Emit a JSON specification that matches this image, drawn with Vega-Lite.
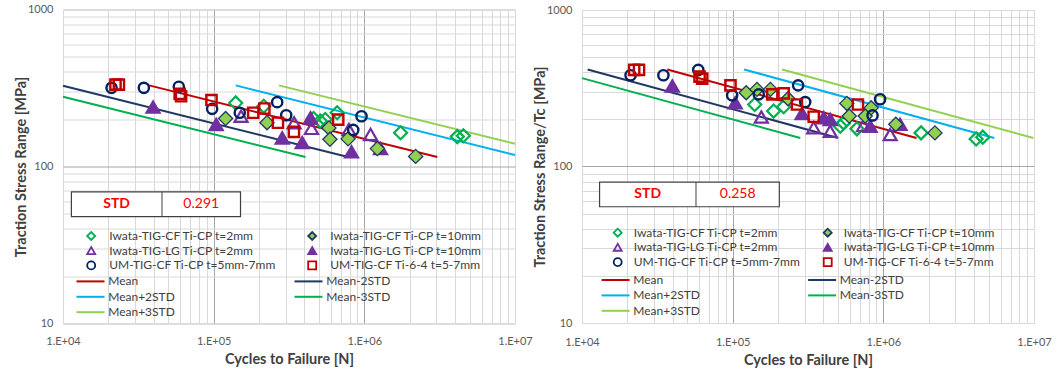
{
  "$schema": "https://vega.github.io/schema/vega-lite/v6.json",
  "padding": {"left": 12, "top": 2.5, "right": 0, "bottom": 0},
  "background": "white",
  "spacing": 67,
  "bounds": "flush",
  "center": true,
  "config": {
    "font": "Lato",
    "view": {"stroke": "#bfbfbf", "strokeWidth": 1},
    "axis": {
      "labelFont": "Lato", "labelFontSize": 11, "labelColor": "#595959",
      "titleFont": "Lato", "titleFontSize": 14.5, "titleFontWeight": "bold", "titleColor": "#404040",
      "ticks": false, "domain": false, "grid": true, "gridWidth": 1,
      "labelFlush": false, "labelOverlap": false
    },
    "legend": {
      "labelFont": "Lato", "labelFontSize": 12, "labelColor": "#404040",
      "labelLimit": 400, "padding": 0, "offset": 0, "title": null
    }
  },
  "datasets": {
    "pts": [
      {"p": "a", "s": "Iwata-TIG-CF Ti-CP t=2mm", "n": 140000, "v": 254},
      {"p": "a", "s": "Iwata-TIG-CF Ti-CP t=2mm", "n": 215000, "v": 242},
      {"p": "a", "s": "Iwata-TIG-CF Ti-CP t=2mm", "n": 460000, "v": 202},
      {"p": "a", "s": "Iwata-TIG-CF Ti-CP t=2mm", "n": 510000, "v": 195},
      {"p": "a", "s": "Iwata-TIG-CF Ti-CP t=2mm", "n": 550000, "v": 199},
      {"p": "a", "s": "Iwata-TIG-CF Ti-CP t=2mm", "n": 660000, "v": 220},
      {"p": "a", "s": "Iwata-TIG-CF Ti-CP t=2mm", "n": 1740000, "v": 164},
      {"p": "a", "s": "Iwata-TIG-CF Ti-CP t=2mm", "n": 4140000, "v": 155},
      {"p": "a", "s": "Iwata-TIG-CF Ti-CP t=2mm", "n": 4540000, "v": 157},
      {"p": "a", "s": "Iwata-TIG-CF Ti-CP t=10mm", "n": 120000, "v": 202},
      {"p": "a", "s": "Iwata-TIG-CF Ti-CP t=10mm", "n": 226000, "v": 190},
      {"p": "a", "s": "Iwata-TIG-CF Ti-CP t=10mm", "n": 582000, "v": 176},
      {"p": "a", "s": "Iwata-TIG-CF Ti-CP t=10mm", "n": 591000, "v": 149},
      {"p": "a", "s": "Iwata-TIG-CF Ti-CP t=10mm", "n": 780000, "v": 150},
      {"p": "a", "s": "Iwata-TIG-CF Ti-CP t=10mm", "n": 1220000, "v": 130},
      {"p": "a", "s": "Iwata-TIG-CF Ti-CP t=10mm", "n": 2190000, "v": 116},
      {"p": "a", "s": "Iwata-TIG-LG Ti-CP t=2mm", "n": 152000, "v": 209},
      {"p": "a", "s": "Iwata-TIG-LG Ti-CP t=2mm", "n": 342000, "v": 190},
      {"p": "a", "s": "Iwata-TIG-LG Ti-CP t=2mm", "n": 446000, "v": 175},
      {"p": "a", "s": "Iwata-TIG-LG Ti-CP t=2mm", "n": 790000, "v": 172},
      {"p": "a", "s": "Iwata-TIG-LG Ti-CP t=2mm", "n": 1100000, "v": 160},
      {"p": "a", "s": "Iwata-TIG-LG Ti-CP t=10mm", "n": 39600, "v": 239},
      {"p": "a", "s": "Iwata-TIG-LG Ti-CP t=10mm", "n": 104000, "v": 185},
      {"p": "a", "s": "Iwata-TIG-LG Ti-CP t=10mm", "n": 285000, "v": 152},
      {"p": "a", "s": "Iwata-TIG-LG Ti-CP t=10mm", "n": 387000, "v": 142},
      {"p": "a", "s": "Iwata-TIG-LG Ti-CP t=10mm", "n": 439000, "v": 204},
      {"p": "a", "s": "Iwata-TIG-LG Ti-CP t=10mm", "n": 822000, "v": 124},
      {"p": "a", "s": "Iwata-TIG-LG Ti-CP t=10mm", "n": 1280000, "v": 130},
      {"p": "a", "s": "UM-TIG-CF Ti-CP t=5mm-7mm", "n": 21000, "v": 317},
      {"p": "a", "s": "UM-TIG-CF Ti-CP t=5mm-7mm", "n": 34400, "v": 317},
      {"p": "a", "s": "UM-TIG-CF Ti-CP t=5mm-7mm", "n": 58700, "v": 322},
      {"p": "a", "s": "UM-TIG-CF Ti-CP t=5mm-7mm", "n": 97700, "v": 233},
      {"p": "a", "s": "UM-TIG-CF Ti-CP t=5mm-7mm", "n": 149000, "v": 220},
      {"p": "a", "s": "UM-TIG-CF Ti-CP t=5mm-7mm", "n": 264000, "v": 257},
      {"p": "a", "s": "UM-TIG-CF Ti-CP t=5mm-7mm", "n": 303000, "v": 212},
      {"p": "a", "s": "UM-TIG-CF Ti-CP t=5mm-7mm", "n": 844000, "v": 171},
      {"p": "a", "s": "UM-TIG-CF Ti-CP t=5mm-7mm", "n": 958000, "v": 209},
      {"p": "a", "s": "UM-TIG-CF Ti-6-4 t=5-7mm", "n": 22300, "v": 332},
      {"p": "a", "s": "UM-TIG-CF Ti-6-4 t=5-7mm", "n": 23500, "v": 332},
      {"p": "a", "s": "UM-TIG-CF Ti-6-4 t=5-7mm", "n": 59500, "v": 290},
      {"p": "a", "s": "UM-TIG-CF Ti-6-4 t=5-7mm", "n": 60800, "v": 280},
      {"p": "a", "s": "UM-TIG-CF Ti-6-4 t=5-7mm", "n": 96700, "v": 265},
      {"p": "a", "s": "UM-TIG-CF Ti-6-4 t=5-7mm", "n": 183000, "v": 220},
      {"p": "a", "s": "UM-TIG-CF Ti-6-4 t=5-7mm", "n": 217000, "v": 234},
      {"p": "a", "s": "UM-TIG-CF Ti-6-4 t=5-7mm", "n": 267000, "v": 190},
      {"p": "a", "s": "UM-TIG-CF Ti-6-4 t=5-7mm", "n": 341000, "v": 166},
      {"p": "a", "s": "UM-TIG-CF Ti-6-4 t=5-7mm", "n": 671000, "v": 199},

      {"p": "b", "s": "Iwata-TIG-CF Ti-CP t=2mm", "n": 140000, "v": 249},
      {"p": "b", "s": "Iwata-TIG-CF Ti-CP t=2mm", "n": 187000, "v": 226},
      {"p": "b", "s": "Iwata-TIG-CF Ti-CP t=2mm", "n": 218000, "v": 241},
      {"p": "b", "s": "Iwata-TIG-CF Ti-CP t=2mm", "n": 518000, "v": 181},
      {"p": "b", "s": "Iwata-TIG-CF Ti-CP t=2mm", "n": 545000, "v": 190},
      {"p": "b", "s": "Iwata-TIG-CF Ti-CP t=2mm", "n": 668000, "v": 174},
      {"p": "b", "s": "Iwata-TIG-CF Ti-CP t=2mm", "n": 1780000, "v": 164},
      {"p": "b", "s": "Iwata-TIG-CF Ti-CP t=2mm", "n": 4130000, "v": 150},
      {"p": "b", "s": "Iwata-TIG-CF Ti-CP t=2mm", "n": 4570000, "v": 154},
      {"p": "b", "s": "Iwata-TIG-CF Ti-CP t=10mm", "n": 123000, "v": 296},
      {"p": "b", "s": "Iwata-TIG-CF Ti-CP t=10mm", "n": 145000, "v": 311},
      {"p": "b", "s": "Iwata-TIG-CF Ti-CP t=10mm", "n": 178000, "v": 311},
      {"p": "b", "s": "Iwata-TIG-CF Ti-CP t=10mm", "n": 233000, "v": 271},
      {"p": "b", "s": "Iwata-TIG-CF Ti-CP t=10mm", "n": 573000, "v": 253},
      {"p": "b", "s": "Iwata-TIG-CF Ti-CP t=10mm", "n": 594000, "v": 210},
      {"p": "b", "s": "Iwata-TIG-CF Ti-CP t=10mm", "n": 758000, "v": 210},
      {"p": "b", "s": "Iwata-TIG-CF Ti-CP t=10mm", "n": 830000, "v": 237},
      {"p": "b", "s": "Iwata-TIG-CF Ti-CP t=10mm", "n": 1210000, "v": 186},
      {"p": "b", "s": "Iwata-TIG-CF Ti-CP t=10mm", "n": 2200000, "v": 164},
      {"p": "b", "s": "Iwata-TIG-LG Ti-CP t=2mm", "n": 155000, "v": 207},
      {"p": "b", "s": "Iwata-TIG-LG Ti-CP t=2mm", "n": 345000, "v": 177},
      {"p": "b", "s": "Iwata-TIG-LG Ti-CP t=2mm", "n": 444000, "v": 168},
      {"p": "b", "s": "Iwata-TIG-LG Ti-CP t=2mm", "n": 739000, "v": 183},
      {"p": "b", "s": "Iwata-TIG-LG Ti-CP t=2mm", "n": 1110000, "v": 160},
      {"p": "b", "s": "Iwata-TIG-LG Ti-CP t=10mm", "n": 39800, "v": 327},
      {"p": "b", "s": "Iwata-TIG-LG Ti-CP t=10mm", "n": 104000, "v": 255},
      {"p": "b", "s": "Iwata-TIG-LG Ti-CP t=10mm", "n": 289000, "v": 218},
      {"p": "b", "s": "Iwata-TIG-LG Ti-CP t=10mm", "n": 402000, "v": 205},
      {"p": "b", "s": "Iwata-TIG-LG Ti-CP t=10mm", "n": 444000, "v": 200},
      {"p": "b", "s": "Iwata-TIG-LG Ti-CP t=10mm", "n": 818000, "v": 181},
      {"p": "b", "s": "Iwata-TIG-LG Ti-CP t=10mm", "n": 1290000, "v": 186},
      {"p": "b", "s": "UM-TIG-CF Ti-CP t=5mm-7mm", "n": 21000, "v": 383},
      {"p": "b", "s": "UM-TIG-CF Ti-CP t=5mm-7mm", "n": 34700, "v": 383},
      {"p": "b", "s": "UM-TIG-CF Ti-CP t=5mm-7mm", "n": 59100, "v": 414},
      {"p": "b", "s": "UM-TIG-CF Ti-CP t=5mm-7mm", "n": 99200, "v": 285},
      {"p": "b", "s": "UM-TIG-CF Ti-CP t=5mm-7mm", "n": 149000, "v": 289},
      {"p": "b", "s": "UM-TIG-CF Ti-CP t=5mm-7mm", "n": 272000, "v": 330},
      {"p": "b", "s": "UM-TIG-CF Ti-CP t=5mm-7mm", "n": 303000, "v": 258},
      {"p": "b", "s": "UM-TIG-CF Ti-CP t=5mm-7mm", "n": 848000, "v": 212},
      {"p": "b", "s": "UM-TIG-CF Ti-CP t=5mm-7mm", "n": 952000, "v": 269},
      {"p": "b", "s": "UM-TIG-CF Ti-6-4 t=5-7mm", "n": 22200, "v": 414},
      {"p": "b", "s": "UM-TIG-CF Ti-6-4 t=5-7mm", "n": 23900, "v": 414},
      {"p": "b", "s": "UM-TIG-CF Ti-6-4 t=5-7mm", "n": 60300, "v": 375},
      {"p": "b", "s": "UM-TIG-CF Ti-6-4 t=5-7mm", "n": 62800, "v": 364},
      {"p": "b", "s": "UM-TIG-CF Ti-6-4 t=5-7mm", "n": 96700, "v": 330},
      {"p": "b", "s": "UM-TIG-CF Ti-6-4 t=5-7mm", "n": 183000, "v": 289},
      {"p": "b", "s": "UM-TIG-CF Ti-6-4 t=5-7mm", "n": 218000, "v": 293},
      {"p": "b", "s": "UM-TIG-CF Ti-6-4 t=5-7mm", "n": 267000, "v": 249},
      {"p": "b", "s": "UM-TIG-CF Ti-6-4 t=5-7mm", "n": 345000, "v": 208},
      {"p": "b", "s": "UM-TIG-CF Ti-6-4 t=5-7mm", "n": 678000, "v": 249}
    ],
    "fits": [
      {"p": "a", "line": "Mean", "n": 37300, "v": 328.6},
      {"p": "a", "line": "Mean", "n": 3050000, "v": 114.8},
      {"p": "a", "line": "Mean-2STD", "n": 10000, "v": 326.8},
      {"p": "a", "line": "Mean-2STD", "n": 780000, "v": 114.8},
      {"p": "a", "line": "Mean+2STD", "n": 140000, "v": 328.6},
      {"p": "a", "line": "Mean+2STD", "n": 10000000, "v": 118.5},
      {"p": "a", "line": "Mean-3STD", "n": 10000, "v": 278.4},
      {"p": "a", "line": "Mean-3STD", "n": 407000, "v": 114.8},
      {"p": "a", "line": "Mean+3STD", "n": 271000, "v": 328.6},
      {"p": "a", "line": "Mean+3STD", "n": 10000000, "v": 139.6},
      {"p": "b", "line": "Mean", "n": 36800, "v": 417},
      {"p": "b", "line": "Mean", "n": 1660000, "v": 152.2},
      {"p": "b", "line": "Mean-2STD", "n": 10900, "v": 417},
      {"p": "b", "line": "Mean-2STD", "n": 500000, "v": 152.2},
      {"p": "b", "line": "Mean+2STD", "n": 119000, "v": 417},
      {"p": "b", "line": "Mean+2STD", "n": 5450000, "v": 152.2},
      {"p": "b", "line": "Mean-3STD", "n": 10000, "v": 367},
      {"p": "b", "line": "Mean-3STD", "n": 281000, "v": 152.2},
      {"p": "b", "line": "Mean+3STD", "n": 213000, "v": 417},
      {"p": "b", "line": "Mean+3STD", "n": 9900000, "v": 152.2}
    ],
    "std": [
      {"p": "a", "std": 0.291},
      {"p": "b", "std": 0.258}
    ]
  },
  "resolve": {
    "scale": {"shape": "independent", "stroke": "independent", "fill": "independent", "color": "independent"},
    "legend": {"shape": "independent", "stroke": "independent", "fill": "independent", "color": "independent"}
  },
  "hconcat": [
    {
      "width": 452,
      "height": 314,
      "layer": [
        {
          "mark": {"type": "rect", "fill": "white", "stroke": "#404040", "strokeWidth": 1},
          "encoding": {
            "x": {"datum": 10250, "type": "quantitative"},
            "x2": {"datum": 9040000},
            "y": {"datum": 41.8, "type": "quantitative"},
            "y2": {"datum": 10.98}
          }
        },
        {
          "data": {"name": "std"},
          "transform": [{"filter": "datum.p == 'a'"}],
          "layer": [
            {
              "mark": {"type": "rect", "fill": "white", "stroke": "#404040", "strokeWidth": 1.2},
              "encoding": {
                "x": {"datum": 11370, "type": "quantitative"},
                "x2": {"datum": 150700},
                "y": {"datum": 68.9, "type": "quantitative"},
                "y2": {"datum": 48.0}
              }
            },
            {
              "mark": {"type": "rule", "stroke": "#404040", "strokeWidth": 1},
              "encoding": {
                "x": {"datum": 45400, "type": "quantitative"},
                "y": {"datum": 68.9, "type": "quantitative"},
                "y2": {"datum": 48.0}
              }
            },
            {
              "mark": {"type": "text", "text": "STD", "fontSize": 14, "fontWeight": "bold", "color": "#ff0000", "baseline": "middle", "align": "center"},
              "encoding": {
                "x": {"datum": 22700, "type": "quantitative"},
                "y": {"datum": 57.5, "type": "quantitative"}
              }
            },
            {
              "mark": {"type": "text", "fontSize": 14, "color": "#ff0000", "baseline": "middle", "align": "center"},
              "encoding": {
                "x": {"datum": 82700, "type": "quantitative"},
                "y": {"datum": 57.5, "type": "quantitative"},
                "text": {"field": "std", "type": "quantitative", "format": ".3f"}
              }
            }
          ]
        },
        {
          "mark": {"type": "text", "text": "(a)", "fontSize": 23, "color": "#262626", "baseline": "middle", "align": "center"},
          "encoding": {
            "x": {"datum": 3720000, "type": "quantitative"},
            "y": {"datum": 592, "type": "quantitative"}
          }
        },
        {
          "data": {"name": "fits"},
          "transform": [{"filter": "datum.p == 'a'"}],
          "mark": {"type": "line", "strokeWidth": 2},
          "encoding": {
            "x": {"field": "n", "type": "quantitative"},
            "y": {"field": "v", "type": "quantitative"},
            "color": {
              "field": "line", "type": "nominal",
              "scale": {"domain": ["Mean", "Mean+2STD", "Mean+3STD", "Mean-2STD", "Mean-3STD"], "range": ["#c00000", "#00b0f0", "#92d050", "#1f3864", "#00b050"]},
              "legend": {"orient": "none", "legendX": 21.5, "legendY": 265.9, "columns": 2, "columnPadding": 115, "rowPadding": 3.4, "symbolType": "M-3.5,0H3.5", "symbolSize": 64, "symbolStrokeWidth": 2, "labelOffset": 11.7, "zindex": 2}
            }
          }
        },
        {
          "data": {"name": "pts"},
          "transform": [{"filter": "datum.p == 'a'"}],
          "layer": [
            {
              "transform": [{"filter": "datum.s == 'Iwata-TIG-CF Ti-CP t=2mm' || datum.s == 'Iwata-TIG-LG Ti-CP t=2mm' || datum.s == 'Iwata-TIG-LG Ti-CP t=10mm'"}],
              "mark": {"type": "point", "filled": true, "opacity": 1, "strokeWidth": 2.2, "size": 170}
            },
            {
              "transform": [{"filter": "datum.s == 'Iwata-TIG-CF Ti-CP t=10mm'"}],
              "mark": {"type": "point", "filled": true, "opacity": 1, "strokeWidth": 1.3, "size": 200}
            },
            {
              "transform": [{"filter": "datum.s == 'UM-TIG-CF Ti-CP t=5mm-7mm' || datum.s == 'UM-TIG-CF Ti-6-4 t=5-7mm'"}],
              "mark": {"type": "point", "filled": true, "opacity": 1, "strokeWidth": 2.4, "size": 105}
            }
          ],
          "encoding": {
            "x": {
              "field": "n", "type": "quantitative",
              "scale": {"type": "log", "domain": [10000, 10000000], "nice": false},
              "axis": {
                "title": "Cycles to Failure [N]",
                "values": [10000, 20000, 30000, 40000, 50000, 60000, 70000, 80000, 90000, 100000, 200000, 300000, 400000, 500000, 600000, 700000, 800000, 900000, 1000000, 2000000, 3000000, 4000000, 5000000, 6000000, 7000000, 8000000, 9000000, 10000000],
                "labelExpr": "datum.value == 10000 ? '1.E+04' : datum.value == 100000 ? '1.E+05' : datum.value == 1000000 ? '1.E+06' : datum.value == 10000000 ? '1.E+07' : ''",
                "gridColor": {"condition": {"test": "datum.value == 100000 || datum.value == 1000000", "value": "#a6a6a6"}, "value": "#d9d9d9"},
                "labelFontSize": 11, "titleFontSize": 14.5, "labelPadding": 12, "titlePadding": 6
              }
            },
            "y": {
              "field": "v", "type": "quantitative",
              "scale": {"type": "log", "domain": [10, 1000], "nice": false},
              "axis": {
                "title": "Traction Stress Range [MPa]",
                "values": [10, 20, 30, 40, 50, 60, 70, 80, 90, 100, 200, 300, 400, 500, 600, 700, 800, 900, 1000],
                "labelExpr": "datum.value == 10 ? '10' : datum.value == 100 ? '100' : datum.value == 1000 ? '1000' : ''",
                "gridColor": {"condition": {"test": "datum.value == 100", "value": "#a6a6a6"}, "value": "#d9d9d9"},
                "labelFontSize": 11, "titleFontSize": 14.5, "labelPadding": 10, "titlePadding": -1
              }
            },
            "shape": {
              "field": "s", "type": "nominal",
              "scale": {
                "domain": ["Iwata-TIG-CF Ti-CP t=2mm", "Iwata-TIG-LG Ti-CP t=2mm", "UM-TIG-CF Ti-CP t=5mm-7mm", "Iwata-TIG-CF Ti-CP t=10mm", "Iwata-TIG-LG Ti-CP t=10mm", "UM-TIG-CF Ti-6-4 t=5-7mm"],
                "range": ["diamond", "triangle-up", "circle", "diamond", "triangle-up", "square"]
              },
              "legend": {"orient": "none", "legendX": 22.2, "legendY": 220.3, "columns": 2, "columnPadding": 27, "rowPadding": -1.2, "symbolSize": 64, "symbolStrokeWidth": 1.8, "labelOffset": 12, "zindex": 2}
            },
            "stroke": {
              "field": "s", "type": "nominal",
              "scale": {
                "domain": ["Iwata-TIG-CF Ti-CP t=2mm", "Iwata-TIG-LG Ti-CP t=2mm", "UM-TIG-CF Ti-CP t=5mm-7mm", "Iwata-TIG-CF Ti-CP t=10mm", "Iwata-TIG-LG Ti-CP t=10mm", "UM-TIG-CF Ti-6-4 t=5-7mm"],
                "range": ["#00b050", "#7030a0", "#002060", "#203864", "#7030a0", "#c00000"]
              }
            },
            "fill": {
              "field": "s", "type": "nominal",
              "scale": {
                "domain": ["Iwata-TIG-CF Ti-CP t=2mm", "Iwata-TIG-LG Ti-CP t=2mm", "UM-TIG-CF Ti-CP t=5mm-7mm", "Iwata-TIG-CF Ti-CP t=10mm", "Iwata-TIG-LG Ti-CP t=10mm", "UM-TIG-CF Ti-6-4 t=5-7mm"],
                "range": ["transparent", "transparent", "transparent", "#92d050", "#7030a0", "transparent"]
              }
            }
          }
        }
      ]
    },
    {
      "width": 452,
      "height": 313,
      "layer": [
        {
          "mark": {"type": "rect", "fill": "white", "stroke": "#404040", "strokeWidth": 1},
          "encoding": {
            "x": {"datum": 11680, "type": "quantitative"},
            "x2": {"datum": 8030000},
            "y": {"datum": 45.4, "type": "quantitative"},
            "y2": {"datum": 11.17}
          }
        },
        {
          "data": {"name": "std"},
          "transform": [{"filter": "datum.p == 'b'"}],
          "layer": [
            {
              "mark": {"type": "rect", "fill": "white", "stroke": "#404040", "strokeWidth": 1.2},
              "encoding": {
                "x": {"datum": 13080, "type": "quantitative"},
                "x2": {"datum": 204000},
                "y": {"datum": 79.5, "type": "quantitative"},
                "y2": {"datum": 55.3}
              }
            },
            {
              "mark": {"type": "rule", "stroke": "#404040", "strokeWidth": 1},
              "encoding": {
                "x": {"datum": 57100, "type": "quantitative"},
                "y": {"datum": 79.5, "type": "quantitative"},
                "y2": {"datum": 55.3}
              }
            },
            {
              "mark": {"type": "text", "text": "STD", "fontSize": 14, "fontWeight": "bold", "color": "#ff0000", "baseline": "middle", "align": "center"},
              "encoding": {
                "x": {"datum": 27300, "type": "quantitative"},
                "y": {"datum": 66.3, "type": "quantitative"}
              }
            },
            {
              "mark": {"type": "text", "fontSize": 14, "color": "#ff0000", "baseline": "middle", "align": "center"},
              "encoding": {
                "x": {"datum": 108000, "type": "quantitative"},
                "y": {"datum": 66.3, "type": "quantitative"},
                "text": {"field": "std", "type": "quantitative", "format": ".3f"}
              }
            }
          ]
        },
        {
          "mark": {"type": "text", "text": "(b)", "fontSize": 23, "color": "#262626", "baseline": "middle", "align": "center"},
          "encoding": {
            "x": {"datum": 4350000, "type": "quantitative"},
            "y": {"datum": 617, "type": "quantitative"}
          }
        },
        {
          "data": {"name": "fits"},
          "transform": [{"filter": "datum.p == 'b'"}],
          "mark": {"type": "line", "strokeWidth": 2},
          "encoding": {
            "x": {"field": "n", "type": "quantitative"},
            "y": {"field": "v", "type": "quantitative"},
            "color": {
              "field": "line", "type": "nominal",
              "scale": {"domain": ["Mean", "Mean+2STD", "Mean+3STD", "Mean-2STD", "Mean-3STD"], "range": ["#c00000", "#00b0f0", "#92d050", "#1f3864", "#00b050"]},
              "legend": {"orient": "none", "legendX": 27.6, "legendY": 264, "columns": 2, "columnPadding": 103.5, "rowPadding": 3.4, "symbolType": "M-3.5,0H3.5", "symbolSize": 64, "symbolStrokeWidth": 2, "labelOffset": 11.7, "zindex": 2}
            }
          }
        },
        {
          "data": {"name": "pts"},
          "transform": [{"filter": "datum.p == 'b'"}],
          "layer": [
            {
              "transform": [{"filter": "datum.s == 'Iwata-TIG-CF Ti-CP t=2mm' || datum.s == 'Iwata-TIG-LG Ti-CP t=2mm' || datum.s == 'Iwata-TIG-LG Ti-CP t=10mm'"}],
              "mark": {"type": "point", "filled": true, "opacity": 1, "strokeWidth": 2.2, "size": 170}
            },
            {
              "transform": [{"filter": "datum.s == 'Iwata-TIG-CF Ti-CP t=10mm'"}],
              "mark": {"type": "point", "filled": true, "opacity": 1, "strokeWidth": 1.3, "size": 200}
            },
            {
              "transform": [{"filter": "datum.s == 'UM-TIG-CF Ti-CP t=5mm-7mm' || datum.s == 'UM-TIG-CF Ti-6-4 t=5-7mm'"}],
              "mark": {"type": "point", "filled": true, "opacity": 1, "strokeWidth": 2.4, "size": 105}
            }
          ],
          "encoding": {
            "x": {
              "field": "n", "type": "quantitative",
              "scale": {"type": "log", "domain": [10000, 10000000], "nice": false},
              "axis": {
                "title": "Cycles to Failure [N]",
                "values": [10000, 20000, 30000, 40000, 50000, 60000, 70000, 80000, 90000, 100000, 200000, 300000, 400000, 500000, 600000, 700000, 800000, 900000, 1000000, 2000000, 3000000, 4000000, 5000000, 6000000, 7000000, 8000000, 9000000, 10000000],
                "labelExpr": "datum.value == 10000 ? '1.E+04' : datum.value == 100000 ? '1.E+05' : datum.value == 1000000 ? '1.E+06' : datum.value == 10000000 ? '1.E+07' : ''",
                "gridColor": {"condition": {"test": "datum.value == 100000 || datum.value == 1000000", "value": "#a6a6a6"}, "value": "#d9d9d9"},
                "labelFontSize": 11, "titleFontSize": 14.5, "labelPadding": 13, "titlePadding": 6
              }
            },
            "y": {
              "field": "v", "type": "quantitative",
              "scale": {"type": "log", "domain": [10, 1000], "nice": false},
              "axis": {
                "title": "Traction Stress Range/Tc [MPa]",
                "values": [10, 20, 30, 40, 50, 60, 70, 80, 90, 100, 200, 300, 400, 500, 600, 700, 800, 900, 1000],
                "labelExpr": "datum.value == 10 ? '10' : datum.value == 100 ? '100' : datum.value == 1000 ? '1000' : ''",
                "gridColor": {"condition": {"test": "datum.value == 100", "value": "#a6a6a6"}, "value": "#d9d9d9"},
                "labelFontSize": 11, "titleFontSize": 14.5, "labelPadding": 10, "titlePadding": -1
              }
            },
            "shape": {
              "field": "s", "type": "nominal",
              "scale": {
                "domain": ["Iwata-TIG-CF Ti-CP t=2mm", "Iwata-TIG-LG Ti-CP t=2mm", "UM-TIG-CF Ti-CP t=5mm-7mm", "Iwata-TIG-CF Ti-CP t=10mm", "Iwata-TIG-LG Ti-CP t=10mm", "UM-TIG-CF Ti-6-4 t=5-7mm"],
                "range": ["diamond", "triangle-up", "circle", "diamond", "triangle-up", "square"]
              },
              "legend": {"orient": "none", "legendX": 29.7, "legendY": 216.5, "columns": 2, "columnPadding": 18, "rowPadding": -1.2, "symbolSize": 64, "symbolStrokeWidth": 1.8, "labelOffset": 10, "zindex": 2}
            },
            "stroke": {
              "field": "s", "type": "nominal",
              "scale": {
                "domain": ["Iwata-TIG-CF Ti-CP t=2mm", "Iwata-TIG-LG Ti-CP t=2mm", "UM-TIG-CF Ti-CP t=5mm-7mm", "Iwata-TIG-CF Ti-CP t=10mm", "Iwata-TIG-LG Ti-CP t=10mm", "UM-TIG-CF Ti-6-4 t=5-7mm"],
                "range": ["#00b050", "#7030a0", "#002060", "#203864", "#7030a0", "#c00000"]
              }
            },
            "fill": {
              "field": "s", "type": "nominal",
              "scale": {
                "domain": ["Iwata-TIG-CF Ti-CP t=2mm", "Iwata-TIG-LG Ti-CP t=2mm", "UM-TIG-CF Ti-CP t=5mm-7mm", "Iwata-TIG-CF Ti-CP t=10mm", "Iwata-TIG-LG Ti-CP t=10mm", "UM-TIG-CF Ti-6-4 t=5-7mm"],
                "range": ["transparent", "transparent", "transparent", "#92d050", "#7030a0", "transparent"]
              }
            }
          }
        }
      ]
    }
  ]
}
